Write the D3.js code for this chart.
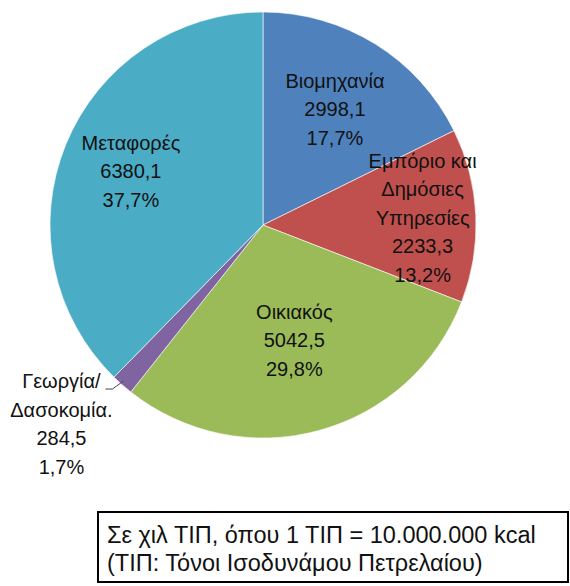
<!DOCTYPE html>
<html>
<head>
<meta charset="utf-8">
<script src="https://cdn.jsdelivr.net/npm/d3@7"></script>
<style>
  body { margin: 0; background: #fff; }
  text { font-family: "Liberation Sans", Arial, sans-serif; fill: #111; }
</style>
</head>
<body>
<div id="vis"></div>
<script>
// sectors, clockwise from 12 o'clock
var sectors = ['Βιομηχανία', 'Εμπόριο και Δημόσιες Υπηρεσίες', 'Οικιακός', 'Γεωργία/ Δασοκομία.', 'Μεταφορές'];
var values = [2998.1, 2233.3, 5042.5, 284.5, 6380.1];
var percents = ['17,7%', '13,2%', '29,8%', '1,7%', '37,7%'];
// label lines as printed on the chart
var labelLines = [
  ['Βιομηχανία'],
  ['Εμπόριο και', 'Δημόσιες', 'Υπηρεσίες'],
  ['Οικιακός'],
  ['Γεωργία/', 'Δασοκομία.'],
  ['Μεταφορές']
];
var colors = ['#4F81BD', '#C0504D', '#9BBB59', '#8064A2', '#4BACC6'];
var noteLines = ['Σε χιλ ΤΙΠ, όπου 1 ΤΙΠ = 10.000.000 kcal', '(ΤΙΠ: Τόνοι Ισοδυνάμου Πετρελαίου)'];

var width = 570, height = 586;
var center = { x: 263, y: 225 };
var radius = 213;
var lineHeight = 28.5;

// label distance from centre, as a share of the radius (Excel "best fit")
var labelRadius = [0.64, 0.75, 0.56, 0, 0.67];

var svg = d3.select('#vis').append('svg')
  .attr('width', width)
  .attr('height', height);

var pie = d3.pie().sort(null).value(function (d) { return d; });
var arcs = pie(values);

var arc = d3.arc().innerRadius(0).outerRadius(radius);

var g = svg.append('g').attr('transform', 'translate(' + center.x + ',' + center.y + ')');

g.selectAll('path.slice')
  .data(arcs)
  .enter().append('path')
  .attr('class', 'slice')
  .attr('d', arc)
  .attr('fill', function (d, i) { return colors[i]; })
  .attr('stroke', '#fff')
  .attr('stroke-width', 0.6);

// data labels
arcs.forEach(function (d, i) {
  var lines = labelLines[i].concat([d3.format('.1f')(values[i]).replace('.', ','), percents[i]]);
  var pos;
  if (labelRadius[i] > 0) {
    var r = radius * labelRadius[i];
    pos = d3.arc().innerRadius(r).outerRadius(r).centroid(d);
  } else {
    // small slice: label outside, bottom-left, with a leader line
    var edge = d3.arc().innerRadius(radius * 0.97).outerRadius(radius * 0.97).centroid(d);
    pos = [edge[0] - 65, edge[1] + 44];
    g.append('path')
      .attr('d', 'M' + (edge[0] - 21) + ',' + (edge[1] + 9) +
        ' L' + (edge[0] - 14) + ',' + (edge[1] + 9) +
        ' L' + (edge[0] - 3) + ',' + (edge[1] + 1))
      .attr('fill', 'none')
      .attr('stroke', '#444')
      .attr('stroke-width', 1);
  }
  var t = g.append('text')
    .attr('text-anchor', 'middle')
    .attr('font-size', 20);
  var y0 = pos[1] - (lines.length - 1) * lineHeight / 2 + 7;
  lines.forEach(function (s, k) {
    t.append('tspan')
      .attr('x', pos[0])
      .attr('y', y0 + k * lineHeight)
      .text(s);
  });
});

// note box
svg.append('rect')
  .attr('x', 98)
  .attr('y', 512)
  .attr('width', 470)
  .attr('height', 70)
  .attr('fill', '#fff')
  .attr('stroke', '#000')
  .attr('stroke-width', 2);

svg.selectAll('text.note')
  .data(noteLines)
  .enter().append('text')
  .attr('class', 'note')
  .attr('x', 107)
  .attr('y', function (d, i) { return 543 + i * 28; })
  .attr('font-size', 23.5)
  .text(function (d) { return d; });
</script>
</body>
</html>
